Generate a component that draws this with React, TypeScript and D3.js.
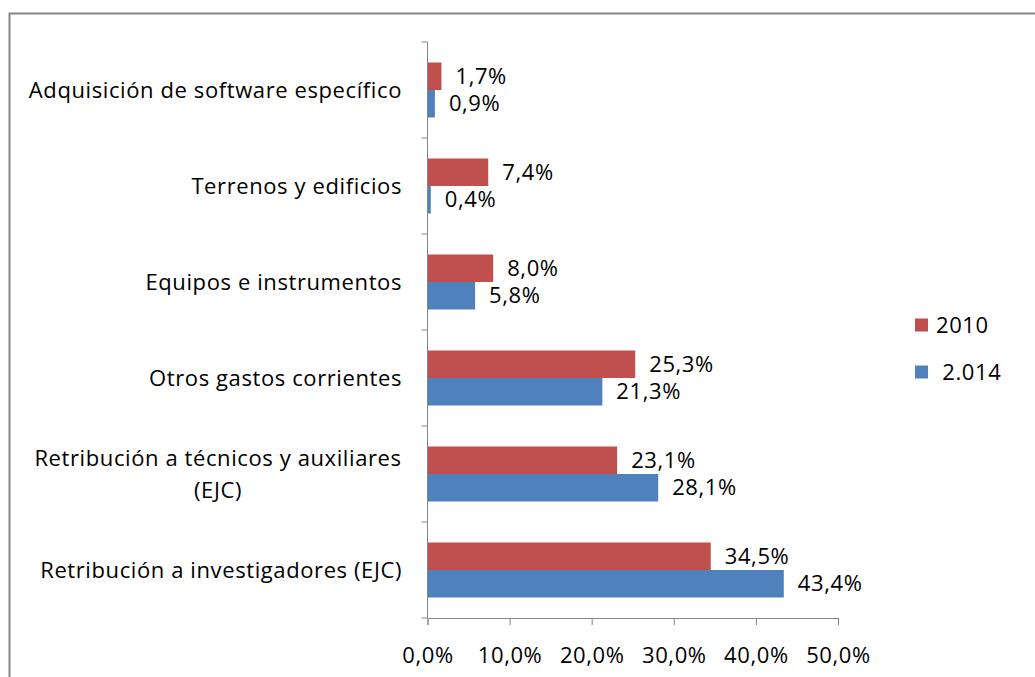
import React, { useEffect, useRef } from "react";
import * as d3 from "d3";

// categories top to bottom
const categories = [
  "Adquisición de software específico",
  "Terrenos y edificios",
  "Equipos e instrumentos",
  "Otros gastos corrientes",
  "Retribución a técnicos y auxiliares (EJC)",
  "Retribución a investigadores (EJC)",
];
const categoryLines = [
  ["Adquisición de software específico"],
  ["Terrenos y edificios"],
  ["Equipos e instrumentos"],
  ["Otros gastos corrientes"],
  ["Retribución a técnicos y auxiliares", "(EJC)"],
  ["Retribución a investigadores (EJC)"],
];
const seriesNames = ["2010", "2.014"];
const values2010 = [1.7, 7.4, 8.0, 25.3, 23.1, 34.5];
const values2014 = [0.9, 0.4, 5.8, 21.3, 28.1, 43.4];
const xTicks = [0, 10, 20, 30, 40, 50];
const colors = ["#C0504D", "#4F81BD"];

const fmt = (v: number) => v.toFixed(1).replace(".", ",") + "%";

export default function App() {
  const svgRef = useRef<SVGSVGElement>(null);

  useEffect(() => {
    const w = 1035;
    const h = 677;
    const svg = d3.select(svgRef.current);
    svg.selectAll("*").remove();
    svg.attr("width", w).attr("height", h);

    const font = "'Open Sans', sans-serif";
    const fs = 22;
    const ls = 0.6;

    // chart border (runs off the right and bottom)
    svg
      .append("rect")
      .attr("x", 9.5)
      .attr("y", 13.5)
      .attr("width", 1100)
      .attr("height", 800)
      .attr("fill", "#fff")
      .attr("stroke", "#868686")
      .attr("stroke-width", 2);

    const left = 427.5;
    const top = 42;
    const bottom = 618;

    const xScale = d3.scaleLinear().domain([0, 50]).range([left, 838]);
    const yScale = d3
      .scaleBand()
      .domain(categories)
      .range([top, bottom])
      .paddingInner(0.427)
      .paddingOuter(0.2135);
    const inner = d3
      .scaleBand()
      .domain(seriesNames)
      .range([0, yScale.bandwidth()]);

    const data = [values2010, values2014];

    // bars
    data.forEach((vals, si) => {
      svg
        .append("g")
        .selectAll("rect")
        .data(vals)
        .enter()
        .append("rect")
        .attr("x", xScale(0))
        .attr("y", (d, i) => yScale(categories[i])! + inner(seriesNames[si])!)
        .attr("width", (d) => xScale(d) - xScale(0))
        .attr("height", inner.bandwidth())
        .attr("fill", colors[si]);

      svg
        .append("g")
        .selectAll("text")
        .data(vals)
        .enter()
        .append("text")
        .attr("x", (d) => xScale(d) + 14)
        .attr(
          "y",
          (d, i) =>
            yScale(categories[i])! + inner(seriesNames[si])! + inner.bandwidth() / 2
        )
        .attr("dy", "0.35em")
        .attr("font-family", font)
        .attr("font-size", fs)
        .attr("letter-spacing", ls)
        .attr("fill", "#000")
        .text((d) => fmt(d));
    });

    // y axis: line + ticks at band boundaries
    const axisColor = "#868686";
    svg
      .append("line")
      .attr("x1", left)
      .attr("x2", left)
      .attr("y1", top)
      .attr("y2", bottom)
      .attr("stroke", axisColor);
    const boundaries = categories.map((c) => yScale(c)! - (yScale.step() - yScale.bandwidth()) / 2);
    boundaries.push(bottom);
    svg
      .append("g")
      .selectAll("line")
      .data(boundaries)
      .enter()
      .append("line")
      .attr("x1", left - 6)
      .attr("x2", left)
      .attr("y1", (d) => d)
      .attr("y2", (d) => d)
      .attr("stroke", axisColor);

    // category labels
    categoryLines.forEach((lines, i) => {
      const cy = yScale(categories[i])! + yScale.bandwidth() / 2;
      const multi = lines.length > 1;
      const t = svg
        .append("text")
        .attr("font-family", font)
        .attr("font-size", fs)
        .attr("letter-spacing", ls)
        .attr("fill", "#000")
        .attr("text-anchor", multi ? "middle" : "end");
      lines.forEach((ln, li) => {
        t.append("tspan")
          .attr("x", multi ? 218 : 402)
          .attr("y", cy + (li - (lines.length - 1) / 2) * 32)
          .attr("dy", "0.35em")
          .text(ln);
      });
    });

    // x axis
    const xAxis = svg
      .append("g")
      .attr("transform", `translate(0, ${bottom})`)
      .call(
        d3
          .axisBottom(xScale)
          .tickValues(xTicks)
          .tickSize(7)
          .tickPadding(30)
          .tickFormat((d) => fmt(+d))
      );
    xAxis.select(".domain").attr("stroke", axisColor);
    xAxis.selectAll(".tick line").attr("stroke", axisColor);
    xAxis
      .selectAll(".tick text")
      .attr("dy", "0.35em")
      .attr("font-family", font)
      .attr("font-size", fs)
      .attr("letter-spacing", ls)
      .attr("fill", "#000");

    // legend
    const legend = svg.append("g");
    seriesNames.forEach((name, i) => {
      const ly = 325 + i * 47;
      legend
        .append("rect")
        .attr("x", 915)
        .attr("y", ly - 6.5)
        .attr("width", 13)
        .attr("height", 13)
        .attr("fill", colors[i]);
      legend
        .append("text")
        .attr("x", 936)
        .attr("y", ly)
        .attr("dy", "0.35em")
        .attr("font-family", font)
        .attr("font-size", fs)
        .attr("letter-spacing", ls)
        .attr("fill", "#000")
        .attr("xml:space", "preserve")
        .style("white-space", "pre")
        .text(" ".repeat(i) + name);
    });
  }, []);

  return (
    <svg
      ref={svgRef}
      style={{ position: "absolute", left: 0, top: 0, display: "block" }}
    ></svg>
  );
}
